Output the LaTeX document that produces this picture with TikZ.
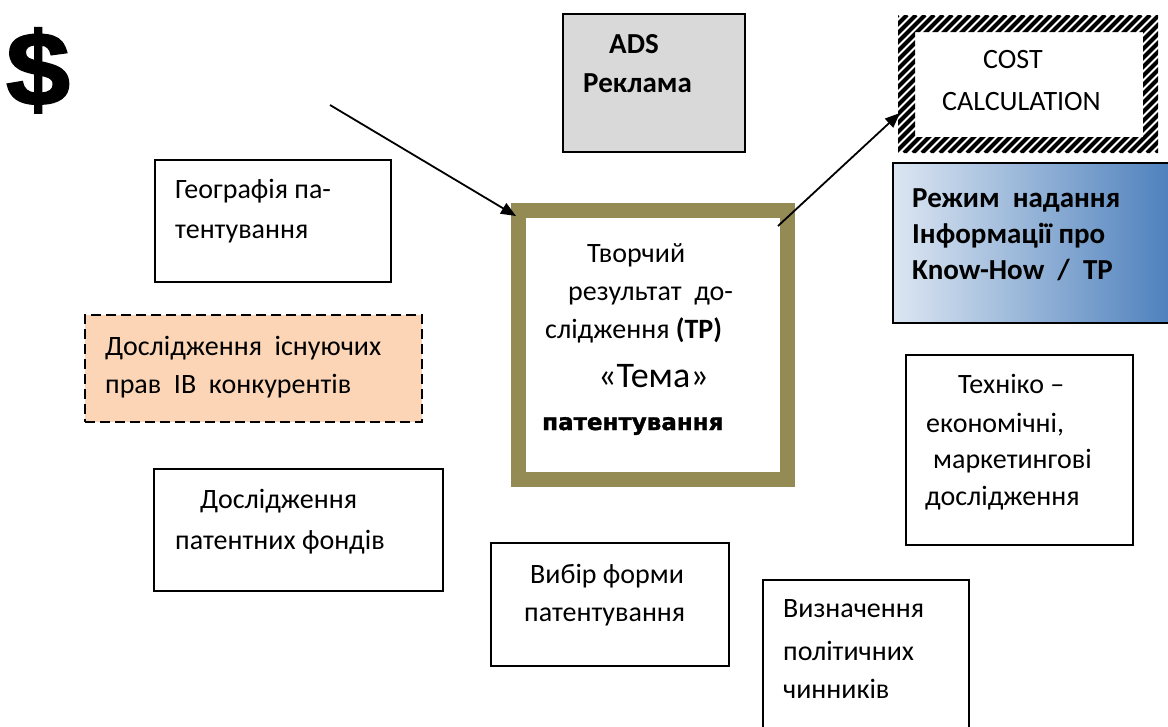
\documentclass[tikz,border=0pt]{standalone}
\usepackage{fontspec}
\setmainfont{Carlito}
\newfontfamily\djvfont[FakeBold=1.5]{DejaVu Sans}
\newfontfamily\libfont[FakeBold=2]{Liberation Sans}
\usetikzlibrary{arrows.meta}
\definecolor{frameolive}{HTML}{948A54}
\definecolor{peachfill}{HTML}{FBD5B5}
\definecolor{adsgray}{HTML}{D9D9D9}
\definecolor{blueL}{HTML}{DCE6F2}
\definecolor{blueR}{HTML}{4A7EBB}
\tikzset{
  box/.style={draw=black, line width=1.3pt, anchor=north west, inner sep=0pt, outer sep=0pt},
  txt/.style={anchor=base west, inner sep=0pt, font=\fontsize{28}{34}\selectfont},
  btxt/.style={anchor=base west, inner sep=0pt, font=\fontsize{29}{34}\selectfont\bfseries},
  arr/.style={line width=1.8pt, -{Triangle[length=15pt,width=12pt]}},
}
\begin{document}
\begin{tikzpicture}[x=1pt,y=-1pt]
\useasboundingbox (0,0) rectangle (1168,726);
% dollar
\node[anchor=base west, inner sep=0pt, font=\libfont\bfseries\fontsize{104}{104}\selectfont, xscale=1.1, transform shape] (dollar) at (6,105) {\$};
% boxes
\node[box, minimum width=236, minimum height=122] (geo) at (155,160) {};
\node[box, dashed, dash pattern=on 10pt off 5pt, line width=1.8pt, fill=peachfill, minimum width=337, minimum height=107] (comp) at (85,315) {};
\node[box, minimum width=289, minimum height=122] (fond) at (154,469) {};
\node[box, minimum width=238, minimum height=123] (vybir) at (491,543) {};
\node[box, minimum width=206, minimum height=150] (vyzn) at (763,580) {};
\node[box, minimum width=227, minimum height=190] (tekh) at (906,355) {};
\node[box, left color=blueL, right color=blueR, minimum width=285, minimum height=160] (rezh) at (893,163) {};
\node[box, fill=adsgray, minimum width=182, minimum height=138] (ads) at (563,14) {};
\node[draw=frameolive, line width=15pt, anchor=north west, inner sep=0pt, outer sep=0pt, minimum width=269, minimum height=269] (center) at (518.5,210.5) {};
% hatched cost frame
\node[anchor=north west, inner sep=0pt, minimum width=260, minimum height=138] (cost) at (898,15) {};
\begin{scope}[even odd rule]
  \clip (898,15) rectangle (1158,153) (915,32) rectangle (1143,137);
  \foreach \i in {0,...,48} {
    \draw[line width=4pt] ({760+\i*9},153) -- ++(138,-138);
  }
\end{scope}
% texts
\node[txt] (geo1) at (175,198) {Географія па-};
\node[txt] (geo2) at (175,238) {тентування};
\node[txt] (comp1) at (105,355) {Дослідження\ \ існуючих};
\node[txt] (comp2) at (105,393) {прав\ \ ІВ\ \ конкурентів};
\node[txt] (fond1) at (200,508) {Дослідження};
\node[txt] (fond2) at (175,549) {патентних фондів};
\node[txt] (vyb1) at (530,583) {Вибір форми};
\node[txt] (vyb2) at (524,621) {патентування};
\node[txt] (vyz1) at (783,617) {Визначення};
\node[txt] (vyz2) at (783,660) {політичних};
\node[txt] (vyz3) at (783,698) {чинників};
\node[txt] (tek1) at (958,393) {Техніко –};
\node[txt] (tek2) at (926,432) {економічні,};
\node[txt] (tek3) at (933,468) {маркетингові};
\node[txt] (tek4) at (925,505) {дослідження};
\node[btxt] (rez1) at (912,207) {Режим\ \ надання};
\node[btxt] (rez2) at (912,243) {Інформації про};
\node[btxt] (rez3) at (912,279) {Know-How\ \ /\ \ TP};
\node[btxt] (ads1) at (609,53) {ADS};
\node[btxt] (ads2) at (583,92) {Реклама};
\node[txt] (cost1) at (983,68) {COST};
\node[txt] (cost2) at (942,110) {CALCULATION};
\node[txt] (c1) at (587,262) {Творчий};
\node[txt] (c2) at (568,300) {результат\ \ до-};
\node[txt] (c3) at (545,338) {слідження \textbf{(ТР)}};
\node[anchor=base west, inner sep=0pt, font=\fontsize{36}{40}\selectfont] (c4) at (598,387) {«Тема»};
\node[anchor=base west, inner sep=0pt, font=\djvfont\bfseries\fontsize{23}{28}\selectfont] (c5) at (542,430) {патентування};
% arrows
\coordinate (a1s) at (330,105);
\coordinate (a1e) at (516,216);
\coordinate (a2s) at (778,226);
\coordinate (a2e) at (900,113);
\draw[arr] (a1s) -- (a1e);
\draw[arr] (a2s) -- (a2e);
\end{tikzpicture}
\end{document}
